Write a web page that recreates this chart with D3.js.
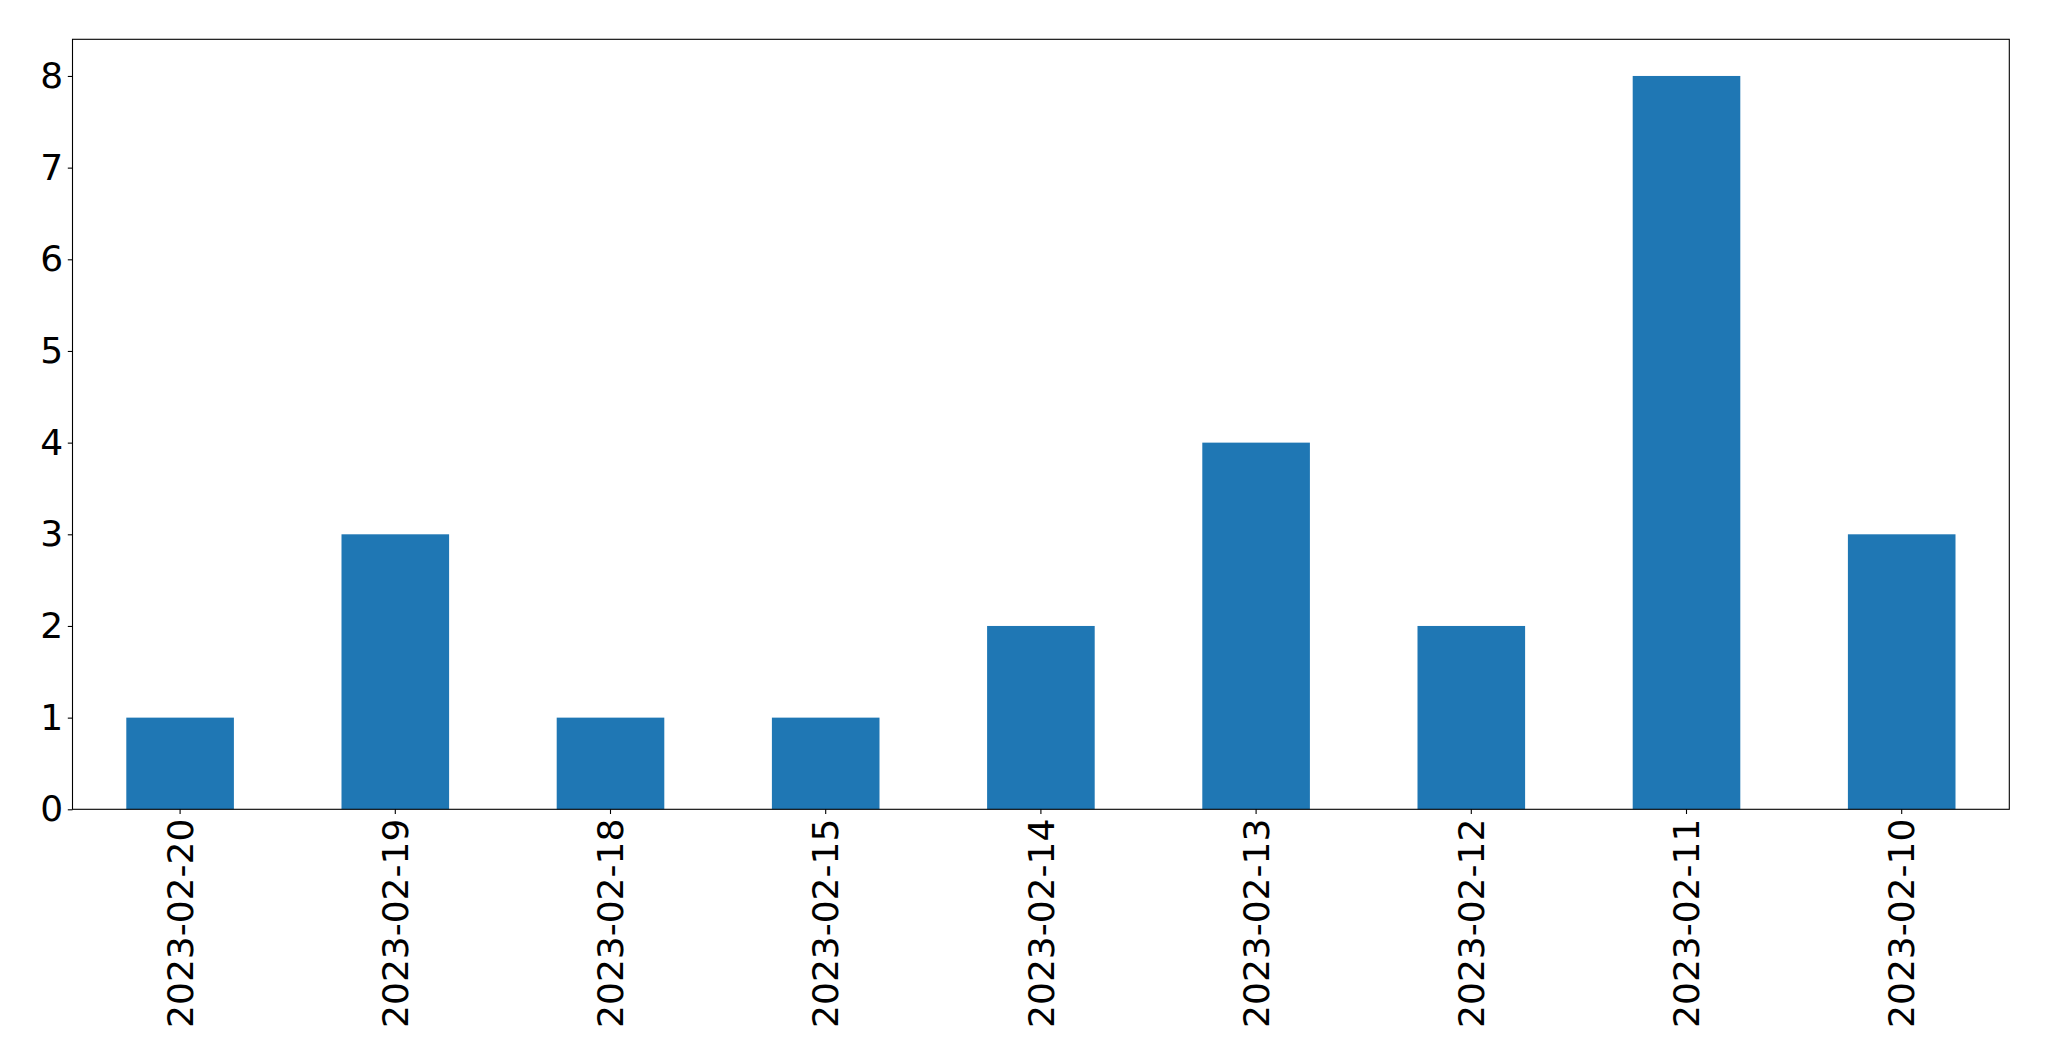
<!DOCTYPE html>
<html><head><meta charset="utf-8">
<script src="https://cdn.jsdelivr.net/npm/d3@7"></script>
<style>body{margin:0;background:#fff}svg{display:block}text{font-family:"DejaVu Sans";fill:#000}</style>
</head><body>
<script>
const categories = ["2023-02-20","2023-02-19","2023-02-18","2023-02-15","2023-02-14","2023-02-13","2023-02-12","2023-02-11","2023-02-10"];
const values = [1,3,1,1,2,4,2,8,3];
const yTicks = [0,1,2,3,4,5,6,7,8];

const W = 2049, H = 1061;
const m = {left:72.5, right:2009.3, top:39.3, bottom:809.3};
const fs = 36, tickLen = 4.7, pad = 4.7;

const svg = d3.select("body").append("svg").attr("width",W).attr("height",H);

const x = d3.scaleBand().domain(categories).range([m.left,m.right]).paddingInner(0.5).paddingOuter(0.25);
const y = d3.scaleLinear().domain([0,8.4]).range([m.bottom,m.top]);

svg.append("g").selectAll("rect").data(values).join("rect")
  .attr("x",(d,i)=>x(categories[i]))
  .attr("width",x.bandwidth())
  .attr("y",d=>y(d))
  .attr("height",d=>y(0)-y(d))
  .attr("fill","#1f77b4");

const yAxis = svg.append("g").attr("transform",`translate(${m.left},0)`)
  .call(d3.axisLeft(y).tickValues(yTicks).tickFormat(d3.format("d")).tickSize(tickLen).tickPadding(pad));
yAxis.select(".domain").remove();
yAxis.selectAll("line").attr("stroke","#000").attr("stroke-width",1.1);
yAxis.selectAll("text").attr("font-size",fs).attr("font-family","DejaVu Sans");

const xAxis = svg.append("g").attr("transform",`translate(0,${m.bottom})`)
  .call(d3.axisBottom(x).tickSize(tickLen).tickPadding(pad));
xAxis.select(".domain").remove();
xAxis.selectAll("line").attr("stroke","#000").attr("stroke-width",1.1);
xAxis.selectAll("text").attr("font-size",fs).attr("font-family","DejaVu Sans")
  .attr("transform",`translate(0,${tickLen+pad}) rotate(-90)`)
  .attr("y",0).attr("dy","0.35em").attr("x",0).attr("text-anchor","end");

svg.append("rect").attr("x",m.left).attr("y",m.top).attr("width",m.right-m.left).attr("height",m.bottom-m.top)
  .attr("fill","none").attr("stroke","#000").attr("stroke-width",1.1);
</script>
</body></html>
